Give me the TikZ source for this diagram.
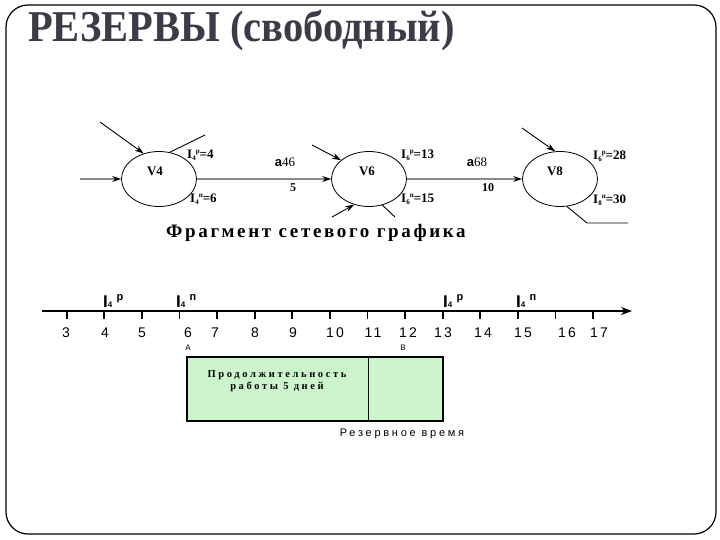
\documentclass[tikz,border=0pt]{standalone}
\usepackage{fontspec}
\setmainfont{Liberation Serif}
\newfontfamily\arialf{Liberation Sans}
\usetikzlibrary{arrows.meta,shapes.geometric}
\definecolor{titlec}{HTML}{3C3C48}
\definecolor{boxgreen}{HTML}{CCF5CC}
\definecolor{edgegray}{HTML}{8A8A8A}
\newcommand\ilab[3]{I\raisebox{-0.35ex}{\fontsize{7}{7}\selectfont #1}\raisebox{0.8ex}{\fontsize{7}{7}\selectfont #2}=#3}
\newcommand\alab[2]{\arialf\bfseries I\raisebox{-0.1ex}{\fontsize{8}{8}\selectfont 4}\hspace{0.25em}\raisebox{0.75ex}{\fontsize{11}{11}\selectfont #2}}
\begin{document}
\begin{tikzpicture}[x=1pt,y=-1pt,
  vnode/.style={draw,ellipse,minimum width=75pt,minimum height=55pt,inner sep=0pt,line width=0.8pt},
  vtext/.style={font=\bfseries\fontsize{13}{13}\selectfont},
  ltext/.style={font=\bfseries\fontsize{13}{13}\selectfont,anchor=west,inner sep=0pt},
  arr/.style={line width=0.9pt,-{Stealth[length=9pt,width=6pt]}},
  garr/.style={draw=edgegray,line width=1.6pt,-{Stealth[length=9pt,width=6pt,color=black]}},
  plain/.style={line width=0.9pt},
  num/.style={font=\arialf\fontsize{14}{14}\selectfont\addfontfeature{LetterSpace=15},inner sep=0pt},
  tick/.style={line width=1.8pt}
]
\useasboundingbox (0,0) rectangle (720,540);
\fill[white] (0,0) rectangle (720,540);
\draw[line width=1.2pt,rounded corners=22pt] (6,5) rectangle (716,534);

% title
\node[anchor=base west,inner sep=0pt,text=titlec,xscale=0.92,font=\bfseries\fontsize{44}{44}\selectfont] (title) at (28,42) {РЕЗЕРВЫ (свободный)};

% network fragment
\node[vnode] (v4) at (159,179) {};
\node[vnode] (v6) at (369,179) {};
\node[vnode] (v8) at (560,179) {};
\node[vtext] (v4t) at (155,171) {V4};
\node[vtext] (v6t) at (367,171) {V6};
\node[vtext] (v8t) at (555,171) {V8};

\coordinate (in4) at (80,179);
\coordinate (d4a) at (100,122);
\coordinate (d4b) at (205,135);
\coordinate (d6a) at (312,145);
\coordinate (d6b) at (332,217);
\coordinate (d6c) at (395,217);
\coordinate (d8a) at (522,128);
\coordinate (d8b) at (587,223);
\coordinate (d8c) at (628,223);

\draw[garr] (in4) -- (v4.west);
\draw[garr] (v4.east) -- (v6.west);
\draw[garr] (v6.east) -- (v8.west);
\draw[arr] (d4a) -- (v4.121);
\draw[plain] (v4.68) -- (d4b);
\draw[arr] (d6a) -- (v6.146);
\draw[arr] (d6b) -- (v6.240);
\draw[plain] (v6.297) -- (d6c);
\draw[arr] (d8a) -- (v8.100);
\draw[plain] (v8.284) -- (d8b) -- (d8c);

\node[inner sep=0pt] (e46) at (285,162) {{\arialf\bfseries\fontsize{13}{13}\selectfont а}\fontsize{13}{13}\selectfont 46};
\node[inner sep=0pt,font=\bfseries\fontsize{12}{12}\selectfont] (w46) at (293,188) {5};
\node[inner sep=0pt] (e68) at (477,162) {{\arialf\bfseries\fontsize{13}{13}\selectfont а}\fontsize{13}{13}\selectfont 68};
\node[inner sep=0pt,font=\bfseries\fontsize{12}{12}\selectfont] (w68) at (488,188) {10};

\node[ltext] (l4r) at (187,155) {\ilab{4}{р}{4}};
\node[ltext] (l4p) at (190,199) {\ilab{4}{п}{6}};
\node[ltext] (l6r) at (401,155) {\ilab{6}{р}{13}};
\node[ltext] (l6p) at (401,199) {\ilab{6}{п}{15}};
\node[ltext] (l8r) at (593,156) {\ilab{6}{р}{28}};
\node[ltext] (l8p) at (593,200) {\ilab{8}{п}{30}};

\node[inner sep=0pt,font=\bfseries\fontsize{19}{19}\selectfont\addfontfeature{LetterSpace=14}] (cap) at (316,233) {Фрагмент сетевого графика};

% time axis
\coordinate (ax0) at (42,311);
\coordinate (ax1) at (632,311);
\draw[line width=2.4pt,-{Stealth[length=11pt,width=8pt]}] (ax0) -- (ax1);
\foreach \k in {3,...,17}{
  \draw[tick] ({66.7+(\k-3)*37.6},311) -- ({66.7+(\k-3)*37.6},319);
}
\foreach \k/\x in {3/66,4/105,5/142,6/188,7/215,8/255,9/293,10/335,11/373,12/408,13/443,14/483,15/523,16/567,17/599}{
  \node[num] (n\k) at (\x,333) {\k};
}
\node[anchor=base west,inner sep=0pt,font=\fontsize{17}{17}\selectfont] (a4r) at (103,307) {\alab{4}{р}};
\node[anchor=base west,inner sep=0pt,font=\fontsize{17}{17}\selectfont] (a4p) at (176,307) {\alab{4}{п}};
\node[anchor=base west,inner sep=0pt,font=\fontsize{17}{17}\selectfont] (b4r) at (443,307) {\alab{4}{р}};
\node[anchor=base west,inner sep=0pt,font=\fontsize{17}{17}\selectfont] (b4p) at (516,307) {\alab{4}{п}};
\node[inner sep=0pt,font=\arialf\fontsize{8}{8}\selectfont] (ptA) at (188,348) {А};
\node[inner sep=0pt,font=\arialf\fontsize{8}{8}\selectfont] (ptB) at (403,348) {В};

% duration box
\draw[fill=boxgreen,line width=2.8pt] (187,357) rectangle (443,421);
\coordinate (dv0) at (368,357);
\coordinate (dv1) at (368,421);
\draw[line width=0.9pt] (dv0) -- (dv1);
\node[inner sep=0pt,align=center,font=\bfseries\fontsize{10.5}{12.5}\selectfont\addfontfeature{LetterSpace=25}] (dur) at (277,381) {Продолжительность\\работы 5 дней};
\node[inner sep=0pt,font=\arialf\fontsize{11}{11}\selectfont\addfontfeature{LetterSpace=25}] (res) at (402,434) {Резервное время};
\end{tikzpicture}
\end{document}
